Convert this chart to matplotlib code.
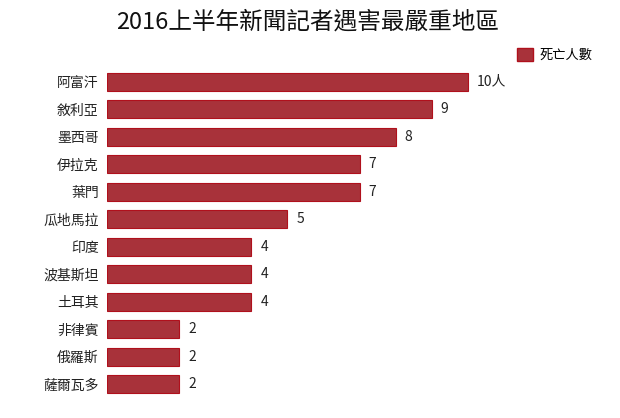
import matplotlib
matplotlib.use('Agg')
import matplotlib.pyplot as plt
from matplotlib.patches import Patch

plt.rcParams['font.family'] = ['Noto Sans CJK TC', 'DejaVu Sans']

countries = ['阿富汗', '敘利亞', '墨西哥', '伊拉克', '葉門', '瓜地馬拉',
             '印度', '波基斯坦', '土耳其', '非律賓', '俄羅斯', '薩爾瓦多']
deaths = [10, 9, 8, 7, 7, 5, 4, 4, 4, 2, 2, 2]
value_labels = ['10人', '9', '8', '7', '7', '5', '4', '4', '4', '2', '2', '2']

fig = plt.figure(figsize=(6.2, 4.18), dpi=100)
ax = fig.add_axes([107 / 620, 1 - 398 / 418, 433 / 620, 330 / 418])

ypos = list(range(len(countries)))
ax.barh(ypos, deaths, height=0.65, color='#a8323a', edgecolor='#b0101c', linewidth=0.8)
ax.set_ylim(len(countries) - 0.5, -0.5)
ax.set_xlim(0, 12)

for y, v, lab in zip(ypos, deaths, value_labels):
    ax.text(v + 0.25, y, lab, va='center', ha='left', fontsize=10, color='#222222')

ax.set_yticks(ypos)
ax.set_yticklabels(countries, fontsize=10, color='#222222')
ax.tick_params(axis='y', length=0, pad=6)
ax.set_xticks([])
for s in ax.spines.values():
    s.set_visible(False)

fig.text(0.5 - 2 / 620, 1 - 22 / 418, '2016上半年新聞記者遇害最嚴重地區', ha='center', va='center',
         fontsize=17, color='#111111', fontweight='light')

fig.legend(handles=[Patch(facecolor='#a8323a', edgecolor='#b0101c', label='死亡人數')],
           loc='center left', bbox_to_anchor=(505 / 620, 1 - 55 / 418), frameon=False,
           fontsize=9.5, handlelength=1.2, handleheight=1.2, handletextpad=0.5)

fig.savefig('out.png', dpi=100, facecolor='white')
